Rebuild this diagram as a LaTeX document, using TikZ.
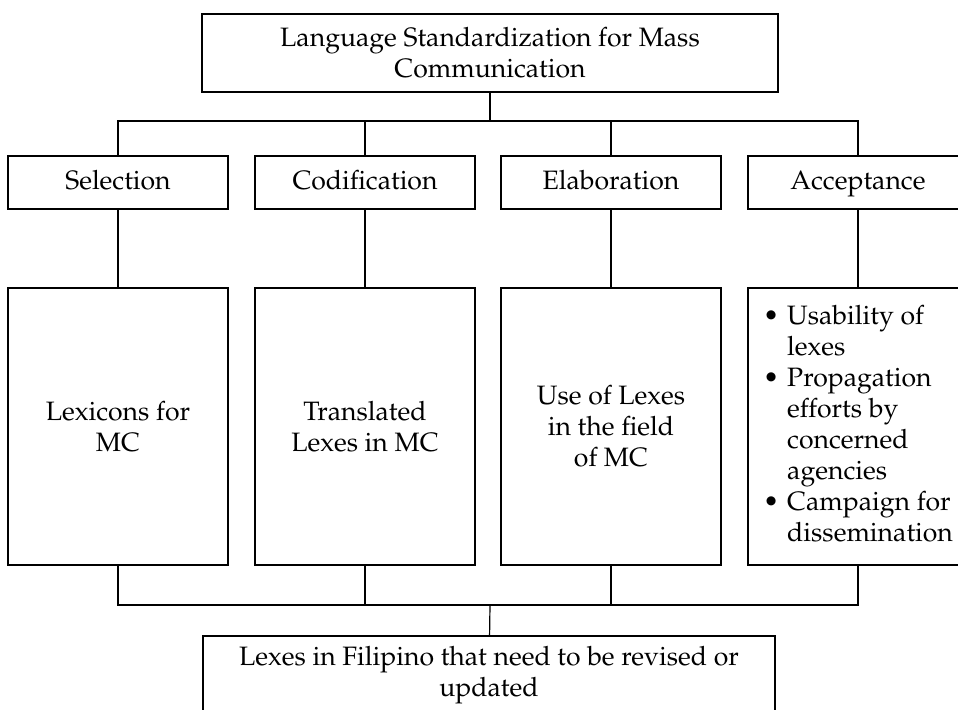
\documentclass[tikz,border=0pt]{standalone}
\usepackage[T1]{fontenc}
\usepackage{mathpazo}
\usepackage{textcomp}

\tikzset{
    kasten/.style={draw, line width=1pt, minimum width=110pt, inner sep=2pt, align=center},
    kopf/.style={kasten, minimum height=26.5pt, text height=0.85em, text depth=0.15em},
    feld/.style={kasten, minimum height=138.5pt},
    linie/.style={line width=0.6pt}
}

\begin{document}
\begin{tikzpicture}[x=0.5pt, y=-0.5pt, font=\fontsize{13.3}{15.5}\selectfont]
    \useasboundingbox (0,0) rectangle (958,710);
    \path node[kasten, minimum width=288pt, minimum height=39pt] (LSMC) at (490,53) {Language Standardization for Mass\\Communication}
        node[kopf] (Sel) at (118,182.5) {Selection}
        node[kopf] (Cod) at (365,182.5) {Codification}
        node[kopf] (Ela) at (611,182.5) {Elaboration}
        node[kopf] (Acc) at (858,182.5) {Acceptance}
        node[feld] (Lex) at (118,426.5) {Lexicons for\\MC}
        node[feld] (Tra) at (365,426.5) {Translated\\Lexes in MC}
        node[feld] (Use) at (611,426.5) {Use of Lexes\\in the field\\of MC}
        node[feld] (Usa) at (858,426.5) {\begin{tabular}{@{}c@{\hspace{4pt}}l@{}}
            \textbullet & Usability of\\
                        & lexes\\
            \textbullet & Propagation\\
                        & efforts by\\
                        & concerned\\
                        & agencies\\
            \textbullet & Campaign for\\
                        & dissemination
        \end{tabular}}
        node[kasten, minimum width=286pt, minimum height=39pt] (Rev) at (489,675) {Lexes in Filipino that need to be revised or\\updated};
    \coordinate (oben) at (490,121);
    \coordinate (unten) at (490,605);
    % top branch
    \draw[linie] (LSMC) -- (oben);
    \draw[linie] (Sel.north) |- (Acc.north |- oben) -- (Acc.north);
    \draw[linie] (Cod.north) -- (Cod.north |- oben);
    \draw[linie] (Ela.north) -- (Ela.north |- oben);
    % middle
    \draw[linie] (Sel) -- (Lex);
    \draw[linie] (Cod) -- (Tra);
    \draw[linie] (Ela) -- (Use);
    \draw[linie] (Acc) -- (Usa);
    % bottom branch
    \draw[linie] (Lex.south) |- (Usa.south |- unten) -- (Usa.south);
    \draw[linie] (Tra.south) -- (Tra.south |- unten);
    \draw[linie] (Use.south) -- (Use.south |- unten);
    \draw[linie] (unten) -- (Rev);
\end{tikzpicture}
\end{document}
